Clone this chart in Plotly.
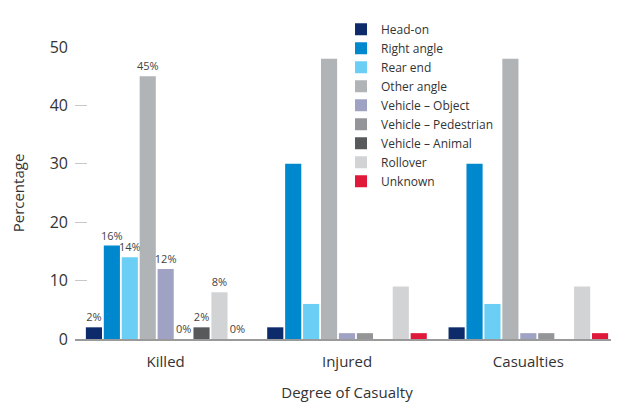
import plotly.graph_objects as go

categories = ["Killed", "Injured", "Casualties"]
series_names = ["Head-on", "Right angle", "Rear end", "Other angle", "Vehicle – Object",
                "Vehicle – Pedestrian", "Vehicle – Animal", "Rollover", "Unknown"]
head_on = [2, 2, 2]
right_angle = [16, 30, 30]
rear_end = [14, 6, 6]
other_angle = [45, 48, 48]
vehicle_object = [12, 1, 1]
vehicle_pedestrian = [0, 1, 1]
vehicle_animal = [2, 0, 0]
rollover = [8, 9, 9]
unknown = [0, 1, 1]
killed_labels = ["2%", "16%", "14%", "45%", "12%", "0%", "2%", "8%", "0%"]

colors = ["#0d2a6b", "#0088cf", "#6bcff5", "#b1b4b7", "#a0a2c4",
          "#939598", "#58595b", "#d1d3d4", "#e0193a"]
series = [head_on, right_angle, rear_end, other_angle, vehicle_object,
          vehicle_pedestrian, vehicle_animal, rollover, unknown]

fig = go.Figure()
for i, (name, vals) in enumerate(zip(series_names, series)):
    fig.add_trace(go.Bar(
        x=categories, y=vals, name=name,
        marker=dict(color=colors[i], line=dict(width=0)),
        text=[killed_labels[i], "", ""],
        textposition="outside",
        textfont=dict(size=11, color="#444444"),
        cliponaxis=False,
    ))

font_family = "Open Sans, sans-serif"
fig.update_layout(
    width=619, height=403,
    barmode="group", bargap=0.11, bargroupgap=0.1,
    plot_bgcolor="white", paper_bgcolor="white",
    font=dict(family=font_family, color="#333333"),
    margin=dict(l=67, r=8, t=39, b=72, autoexpand=False),
    showlegend=True,
    legend=dict(
        x=0.489, xanchor="left",
        y=0.983, yref="container", yanchor="top",
        font=dict(size=12, color="#333333"),
        bgcolor="rgba(0,0,0,0)", tracegroupgap=0,
    ),
    uniformtext=dict(minsize=9, mode="show"),
)
fig.update_yaxes(
    range=[0, 50], tickvals=[0, 10, 20, 30, 40, 50],
    showgrid=False, zeroline=False, showline=False,
    ticks="inside", ticklen=12, tickcolor="#c8c8c8", tickwidth=1,
    ticklabelstandoff=6,
    tickfont=dict(size=16, color="#333333"),
    title=dict(text="Percentage", font=dict(size=15, color="#333333"), standoff=24),
)
fig.update_xaxes(
    showgrid=False, showline=True, linecolor="#9a9a9a", linewidth=1.5,
    ticks="", ticklabelstandoff=8, tickfont=dict(size=15, color="#333333"),
    title=dict(text="Degree of Casualty", font=dict(size=15, color="#333333"), standoff=18),
)
fig.write_html("out.html")
